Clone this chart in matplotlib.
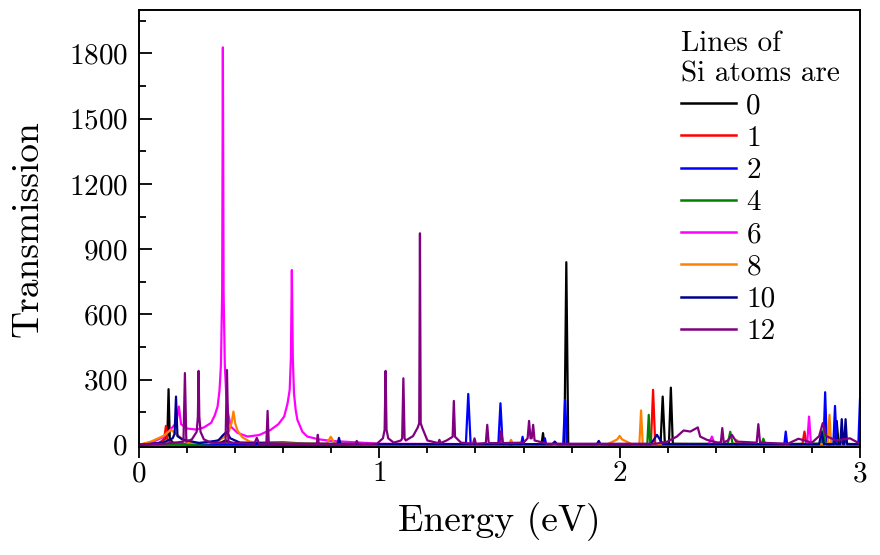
import matplotlib
matplotlib.use("Agg")
import matplotlib.pyplot as plt
from matplotlib.ticker import MultipleLocator

plt.rcParams['font.family'] = 'serif'
plt.rcParams['font.serif'] = ['cmr10']
plt.rcParams['mathtext.fontset'] = 'cm'
plt.rcParams['axes.formatter.use_mathtext'] = True

# polyline vertices (energy in eV, transmission)
e_0 = [0, 0.08, 0.105, 0.118, 0.123, 0.128, 0.14, 0.2, 0.33, 0.36, 0.4, 1.0, 1.675, 1.681, 1.687,
       1.77, 1.778, 1.786, 2.17, 2.179, 2.188, 2.205, 2.213, 2.221, 2.6, 2.895, 2.903, 2.911, 3.0]
t_0 = [0, 5, 25, 40, 256, 30, 10, 3, 5, 20, 3, 1, 2, 54, 2,
       2, 840, 2, 2, 222, 5, 5, 263, 5, 3, 5, 110, 5, 3]

e_1 = [0, 0.09, 0.105, 0.112, 0.118, 0.14, 0.3, 2.13, 2.139, 2.148, 2.76, 2.769, 2.778,
       2.925, 2.933, 2.941, 3.0]
t_1 = [0, 10, 30, 87, 25, 5, 1, 2, 253, 2, 2, 61, 2,
       2, 50, 2, 1]

e_2 = [0, 1.36, 1.370, 1.38, 1.495, 1.504, 1.513, 1.59, 1.596, 1.602, 1.684, 1.689, 1.694,
       1.765, 1.773, 1.781, 2.685, 2.691, 2.697, 2.848, 2.855, 2.862, 2.889, 2.896, 2.903,
       2.993, 3.0]
t_2 = [1, 1, 234, 1, 1, 191, 1, 1, 37, 1, 1, 30, 1,
       1, 207, 1, 1, 61, 1, 1, 242, 1, 1, 179, 1,
       1, 210]

e_4 = [0, 0.2, 0.3, 0.5, 0.6, 0.7, 0.9, 2.1, 2.115, 2.121, 2.127, 2.2, 2.45, 2.46, 2.47,
       2.59, 2.598, 2.606, 2.84, 2.848, 2.856, 3.0]
t_4 = [0, 3, 8, 10, 12, 5, 2, 2, 5, 138, 5, 2, 5, 60, 5,
       2, 28, 2, 5, 69, 5, 2]

e_6 = [0, 0.05, 0.1, 0.13, 0.155, 0.166, 0.175, 0.2, 0.24, 0.27, 0.30, 0.315, 0.327, 0.335,
       0.341, 0.346, 0.349, 0.352, 0.357, 0.363, 0.37, 0.382, 0.41, 0.452, 0.50, 0.548, 0.58,
       0.604, 0.618, 0.627, 0.632, 0.636, 0.640, 0.645, 0.652, 0.659, 0.68, 0.70, 0.75, 0.80,
       1.0, 1.5, 1.51, 1.52, 2.37, 2.384, 2.395, 2.78, 2.788, 2.796, 3.0]
t_6 = [0, 10, 35, 70, 100, 176, 95, 75, 70, 80, 101, 135, 176, 250,
       370, 700, 1828, 700, 370, 230, 150, 84, 55, 38, 45, 69, 95,
       130, 190, 253, 400, 804, 400, 235, 160, 115, 60, 38, 25, 18,
       5, 3, 15, 3, 3, 38, 3, 3, 130, 3, 2]

e_8 = [0, 0.05, 0.1, 0.133, 0.16, 0.2, 0.3, 0.34, 0.36, 0.375, 0.385, 0.393, 0.40, 0.41, 0.43,
       0.46, 0.5, 0.78, 0.798, 0.815, 1.0, 1.54, 1.548, 1.556, 1.95, 1.99, 2.0, 2.01, 2.05,
       2.082, 2.089, 2.096, 2.48, 2.487, 2.494, 2.866, 2.873, 2.88, 3.0]
t_8 = [0, 15, 40, 69, 45, 10, 10, 25, 40, 65, 100, 153, 100, 65, 35,
       15, 8, 5, 37, 5, 2, 2, 23, 2, 3, 25, 41, 25, 3,
       3, 158, 3, 3, 23, 3, 3, 138, 3, 2]

e_10 = [0, 0.1, 0.14, 0.148, 0.154, 0.16, 0.18, 0.25, 0.33, 0.35, 0.365, 0.38, 0.42, 0.6,
        0.826, 0.832, 0.838, 1.0, 1.72, 1.73, 1.74, 1.905, 1.913, 1.92, 2.13, 2.155, 2.18,
        2.83, 2.84, 2.85, 2.918, 2.924, 2.93, 2.934, 2.940, 2.946, 3.0]
t_10 = [0, 10, 30, 50, 222, 40, 25, 8, 20, 45, 60, 30, 10, 5,
        5, 32, 5, 3, 3, 15, 3, 3, 18, 3, 3, 46, 3,
        3, 60, 3, 3, 118, 3, 3, 118, 3, 3]

e_12 = [0, 0.1, 0.15, 0.185, 0.191, 0.197, 0.22, 0.24, 0.245, 0.248, 0.251, 0.256, 0.27, 0.3,
        0.36, 0.366, 0.372, 0.48, 0.49, 0.5, 0.53, 0.535, 0.54, 0.74, 0.744, 0.748, 0.9,
        0.906, 0.912, 0.99, 1.015, 1.022, 1.026, 1.03, 1.037, 1.06, 1.09, 1.095, 1.100,
        1.105, 1.11, 1.14, 1.16, 1.166, 1.169, 1.172, 1.178, 1.2, 1.245, 1.25, 1.255, 1.28,
        1.305, 1.31, 1.315, 1.34, 1.39, 1.396, 1.402, 1.443, 1.449, 1.455, 1.5, 1.507, 1.514,
        1.6, 1.617, 1.623, 1.629, 1.634, 1.640, 1.646, 1.7, 2.15, 2.197, 2.238, 2.266, 2.294,
        2.325, 2.335, 2.363, 2.404, 2.421, 2.427, 2.433, 2.45, 2.467, 2.485, 2.57, 2.577,
        2.584, 2.7, 2.744, 2.8, 2.83, 2.845, 2.86, 2.9, 2.958, 3.0]
t_12 = [2, 5, 10, 15, 330, 15, 25, 60, 130, 340, 130, 60, 25, 10,
        10, 344, 10, 5, 32, 5, 5, 156, 5, 3, 46, 3, 3,
        18, 3, 5, 30, 69, 340, 69, 30, 10, 20, 30, 306,
        30, 20, 40, 80, 100, 973, 100, 80, 20, 8, 23, 8, 20,
        37, 202, 37, 10, 5, 30, 5, 8, 92, 8, 8, 64, 8,
        10, 30, 110, 30, 30, 92, 20, 5, 5, 14, 38, 66, 61,
        80, 38, 23, 11, 11, 77, 11, 20, 46, 15, 10, 95,
        10, 5, 28, 10, 40, 100, 40, 20, 30, 5]

labels = ['0', '1', '2', '4', '6', '8', '10', '12']
colors = ['black', '#ff0000', '#0000ff', '#008000', '#ff00ff', '#ff8000', '#000090', '#800080']
series = [(e_0, t_0), (e_1, t_1), (e_2, t_2), (e_4, t_4), (e_6, t_6),
          (e_8, t_8), (e_10, t_10), (e_12, t_12)]

fig = plt.figure(figsize=(8.8, 5.55), dpi=100)
ax = fig.add_axes([139 / 880, 1 - 447 / 555, 721 / 880, 437 / 555])

for (e, t), lab, c in zip(series, labels, colors):
    ax.plot(e, t, color=c, lw=1.6, label=lab)

ax.set_xlim(0, 3)
ax.set_ylim(-10, 2000)
ax.xaxis.set_major_locator(MultipleLocator(1))
ax.xaxis.set_minor_locator(MultipleLocator(0.2))
ax.yaxis.set_minor_locator(MultipleLocator(150))
ax.set_yticks([0, 300, 600, 900, 1200, 1500, 1800])

ax.tick_params(axis='x', which='both', direction='out', top=False, labelsize=21, pad=2, width=1.3)
ax.tick_params(axis='x', which='major', length=8)
ax.tick_params(axis='x', which='minor', length=4.5)
ax.tick_params(axis='y', which='both', direction='in', right=False, labelsize=21, pad=8, width=1.3)
ax.tick_params(axis='y', which='major', length=9.5)
ax.tick_params(axis='y', which='minor', length=5)
for s in ax.spines.values():
    s.set_linewidth(1.4)

ax.set_xlabel('Energy (eV)', fontsize=27, labelpad=11)
ax.set_ylabel('Transmission', fontsize=27, labelpad=17)

leg = ax.legend(title='Lines of\nSi atoms are', loc='upper right', frameon=False,
                fontsize=21, title_fontsize=21, alignment='left',
                handlelength=1.9, handletextpad=0.35, labelspacing=0.2,
                borderaxespad=0.3)
for h in leg.get_lines():
    h.set_linewidth(1.8)

fig.savefig('out.png', dpi=100)
